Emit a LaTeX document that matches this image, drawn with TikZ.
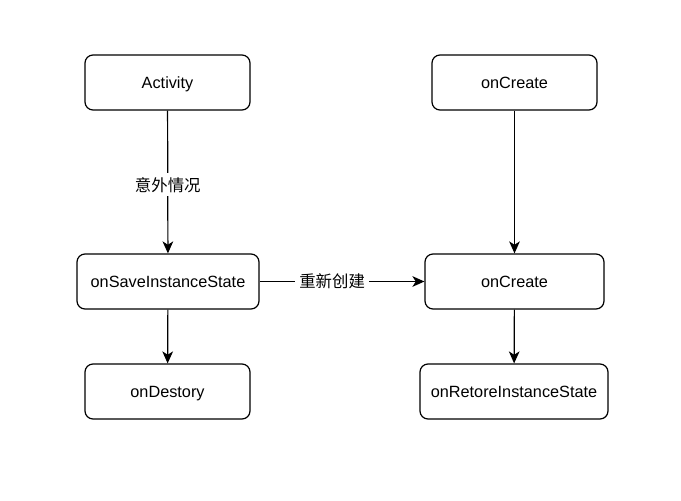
\documentclass[tikz,border=0pt]{standalone}
\usepackage{fontspec}
\setmainfont{Liberation Sans}
\newfontfamily\cjk{Noto Sans CJK SC}
\usetikzlibrary{arrows.meta}
\begin{document}
\begin{tikzpicture}[x=0.75pt,y=-0.75pt,
  box/.style={draw, line width=0.9pt, rounded corners=6pt, minimum height=55*0.75pt, inner sep=0pt, font=\fontsize{12.2}{14}\selectfont, fill=white, text height=11pt, text depth=2pt},
  conn/.style={draw, line width=0.9pt, -{Stealth[length=9pt,width=8pt,inset=2.5pt]}},
  lbl/.style={fill=white, font=\cjk\fontsize{12.3}{14}\selectfont, inner sep=3pt}]
\useasboundingbox (0,0) rectangle (681,500);
\node[box, minimum width=165*0.75pt] (act) at (167.5,82.5) {Activity};
\node[box, minimum width=165*0.75pt] (oc1) at (514.5,82.5) {onCreate};
\node[box, minimum width=182*0.75pt] (save) at (168,281.5) {onSaveInstanceState};
\node[box, minimum width=179*0.75pt] (oc2) at (514.5,281.5) {onCreate};
\node[box, minimum width=165*0.75pt] (des) at (167.5,391.5) {onDestory};
\node[box, minimum width=188*0.75pt] (res) at (514,391.5) {onRetoreInstanceState};
\draw[conn] (act) -- (save) node[lbl, pos=0.52] {意外情况};
\draw[conn] (save) -- (oc2) node[lbl, pos=0.44] {重新创建};
\draw[conn] (oc1) -- (oc2);
\draw[conn] (save) -- (des);
\draw[conn] (oc2) -- (res);
\end{tikzpicture}
\end{document}
